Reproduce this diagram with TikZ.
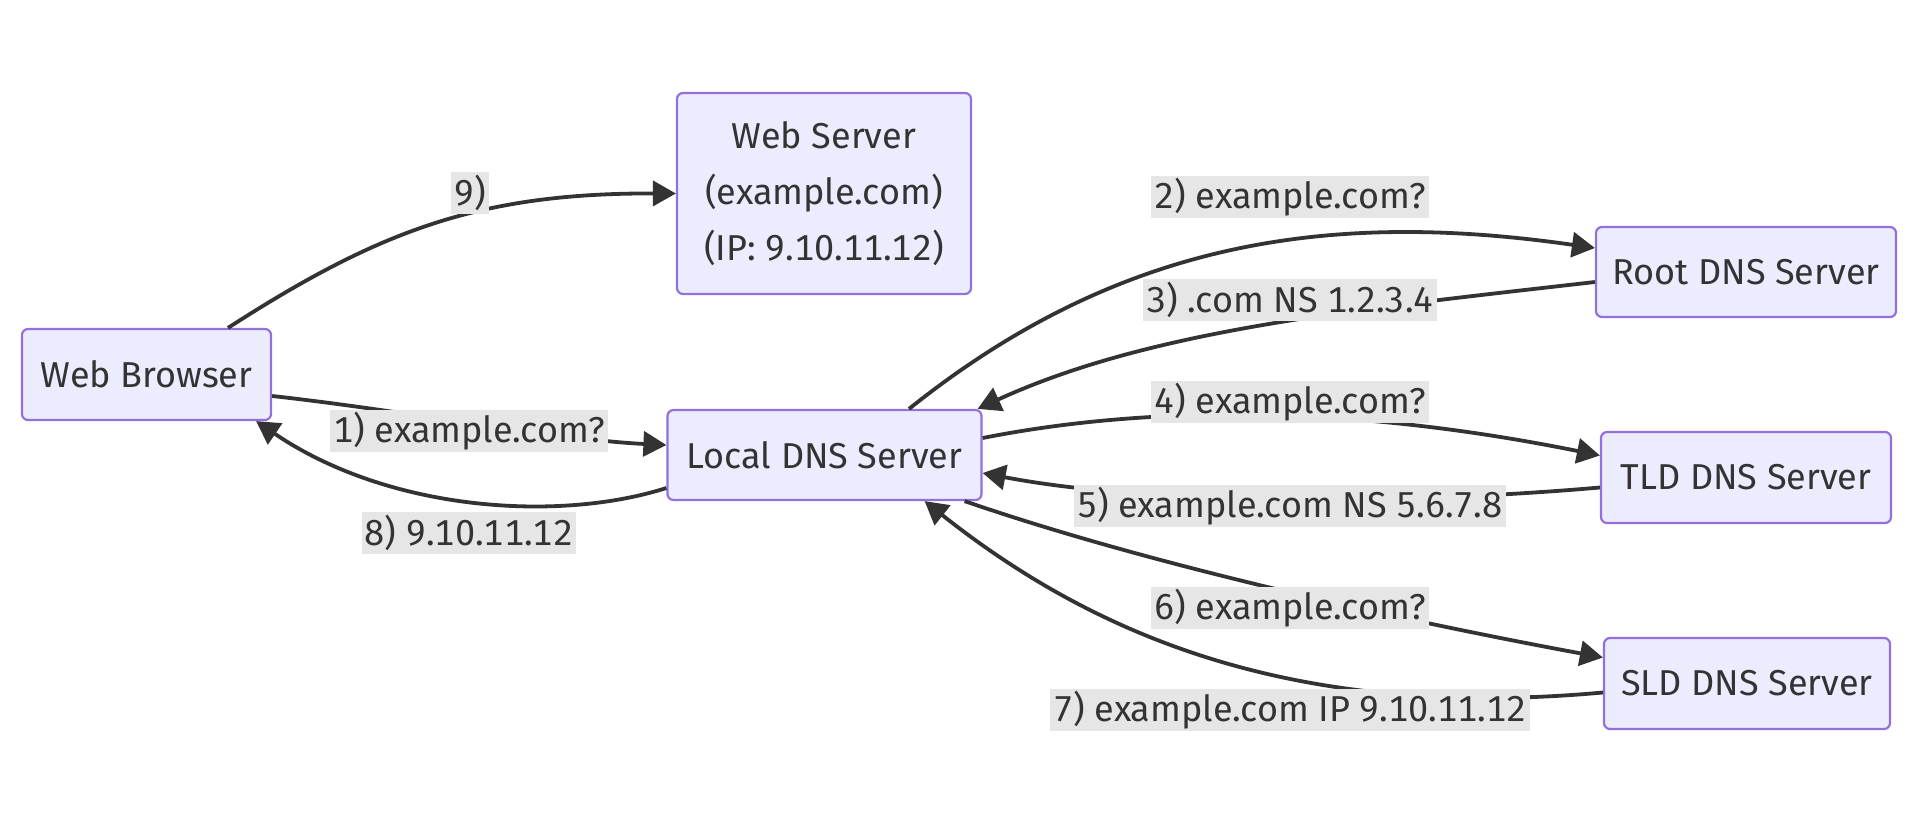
\documentclass[tikz,border=0pt]{standalone}
\usepackage{fontspec}
\setmainfont[Numbers={Monospaced,Lining}]{Fira Sans}
\usetikzlibrary{arrows.meta}
\definecolor{nodefill}{HTML}{ECECFF}
\definecolor{nodeline}{HTML}{9370DB}
\definecolor{edgecol}{HTML}{333333}
\definecolor{lblfill}{HTML}{E6E6E6}
\begin{document}
\begin{tikzpicture}[x=1pt,y=-1pt,
  box/.style={draw=nodeline,fill=nodefill,line width=2.2pt,rounded corners=6pt,
    text=edgecol,align=center,inner sep=0pt,font=\fontsize{36}{56}\selectfont},
  lbl/.style={fill=lblfill,text=edgecol,inner xsep=3pt,inner ysep=0pt,minimum height=42pt,
    font=\fontsize{36}{42}\selectfont},
  edge/.style={draw=edgecol,line width=3.8pt,-{Triangle[length=23pt,width=25pt]}}]
\useasboundingbox[fill=white] (0,0) rectangle (1920,836);
% nodes
\node[box,minimum width=249pt,minimum height=91pt] (browser) at (146.5,374.5) {Web Browser};
\node[box,minimum width=294pt,minimum height=201pt] (web) at (824,193.5) {Web Server\\(example.com)\\(IP: 9.10.11.12)};
\node[box,minimum width=314pt,minimum height=90pt] (local) at (824.5,455) {Local DNS Server};
\node[box,minimum width=300pt,minimum height=90pt] (root) at (1746,272) {Root DNS Server};
\node[box,minimum width=290pt,minimum height=91pt] (tld) at (1746,477.5) {TLD DNS Server};
\node[box,minimum width=286pt,minimum height=91pt] (sld) at (1747,683.5) {SLD DNS Server};
% edges
\draw[edge] ([xshift=81.5pt]browser.north) .. controls (380,230) and (480,193) .. (web.west);
\draw[edge] ([yshift=-21.5pt]browser.east) .. controls (400,410) and (560,440) .. ([yshift=10pt]local.west);
\draw[edge] ([yshift=-33pt]local.west) .. controls (560,522) and (390,512) .. ([xshift=-16pt]browser.south east);
\draw[edge] ([xshift=84.5pt]local.north) .. controls (1120,240) and (1330,210) .. ([yshift=24pt]root.west);
\draw[edge] ([yshift=-10pt]root.west) .. controls (1350,310) and (1150,330) .. ([xshift=-5pt]local.north east);
\draw[edge] ([yshift=17pt]local.east) .. controls (1150,405) and (1350,405) .. ([yshift=22pt]tld.west);
\draw[edge] ([yshift=-10pt]tld.west) .. controls (1400,505) and (1150,505) .. ([yshift=-18pt]local.east);
\draw[edge] ([xshift=-18pt]local.south east) .. controls (1150,565) and (1400,620) .. ([yshift=26pt]sld.west);
\draw[edge] ([yshift=-9pt]sld.west) .. controls (1300,720) and (1100,640) .. ([xshift=-58pt]local.south east);
% labels
\node[lbl] (l9) at (470,193) {9)};
\node[lbl] (l1) at (469,431) {1) example.com?};
\node[lbl] (l8) at (469,533) {8) 9.10.11.12};
\node[lbl] (l2) at (1290,197) {2) example.com?};
\node[lbl] (l3) at (1290,300) {3) .com NS 1.2.3.4};
\node[lbl] (l4) at (1290,402) {4) example.com?};
\node[lbl] (l5) at (1290,506) {5) example.com NS 5.6.7.8};
\node[lbl] (l6) at (1290,608) {6) example.com?};
\node[lbl] (l7) at (1290,710) {7) example.com IP 9.10.11.12};
\end{tikzpicture}
\end{document}
